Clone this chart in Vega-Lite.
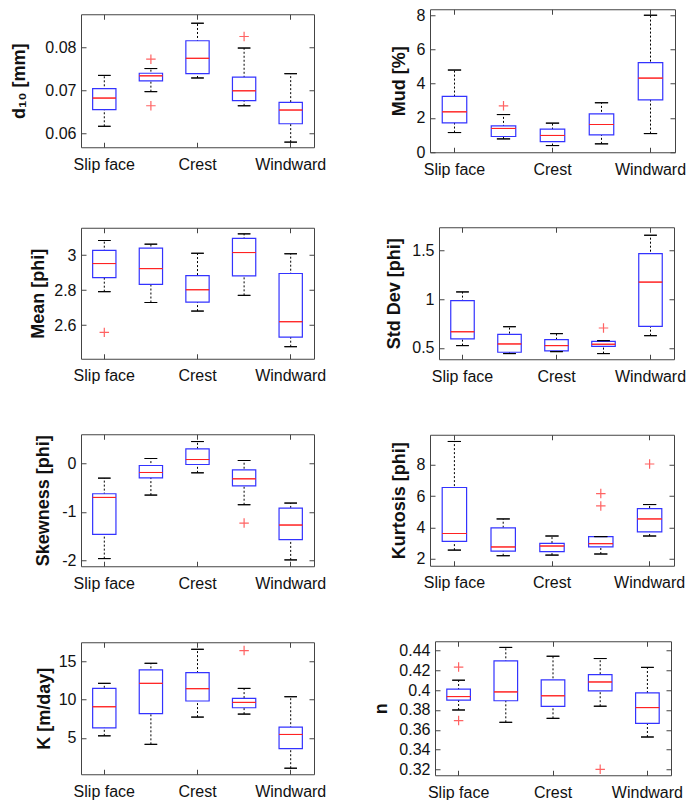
{
"$schema": "https://vega.github.io/schema/vega-lite/v6.json",
"padding": {"left": 10, "top": 6, "right": 0, "bottom": 0},
"datasets": {
"stats": [
{"v":"d10","pos":1,"lo":0.0616,"q1":0.0655,"med":0.0682,"q3":0.0704,"hi":0.0735},
{"v":"d10","pos":2,"lo":0.0697,"q1":0.0722,"med":0.0734,"q3":0.0740,"hi":0.0751},
{"v":"d10","pos":3,"lo":0.0729,"q1":0.0739,"med":0.0775,"q3":0.0816,"hi":0.0857},
{"v":"d10","pos":4,"lo":0.0664,"q1":0.0676,"med":0.0699,"q3":0.0731,"hi":0.0799},
{"v":"d10","pos":5,"lo":0.0579,"q1":0.0622,"med":0.0654,"q3":0.0672,"hi":0.0739},
{"v":"mud","pos":1,"lo":1.15,"q1":1.72,"med":2.36,"q3":3.26,"hi":4.80},
{"v":"mud","pos":2,"lo":0.78,"q1":0.92,"med":1.39,"q3":1.54,"hi":2.20},
{"v":"mud","pos":3,"lo":0.39,"q1":0.62,"med":0.98,"q3":1.35,"hi":1.70},
{"v":"mud","pos":4,"lo":0.49,"q1":1.01,"med":1.62,"q3":2.24,"hi":2.89},
{"v":"mud","pos":5,"lo":1.09,"q1":3.06,"med":4.33,"q3":5.23,"hi":8.0},
{"v":"mean","pos":1,"lo":2.791,"q1":2.872,"med":2.952,"q3":3.027,"hi":3.084},
{"v":"mean","pos":2,"lo":2.729,"q1":2.833,"med":2.923,"q3":3.040,"hi":3.063},
{"v":"mean","pos":3,"lo":2.680,"q1":2.731,"med":2.802,"q3":2.883,"hi":3.011},
{"v":"mean","pos":4,"lo":2.770,"q1":2.881,"med":3.015,"q3":3.096,"hi":3.122},
{"v":"mean","pos":5,"lo":2.476,"q1":2.531,"med":2.619,"q3":2.895,"hi":3.008},
{"v":"sd","pos":1,"lo":0.524,"q1":0.594,"med":0.666,"q3":0.986,"hi":1.075},
{"v":"sd","pos":2,"lo":0.442,"q1":0.456,"med":0.541,"q3":0.640,"hi":0.718},
{"v":"sd","pos":3,"lo":0.462,"q1":0.469,"med":0.524,"q3":0.585,"hi":0.647},
{"v":"sd","pos":4,"lo":0.442,"q1":0.517,"med":0.538,"q3":0.568,"hi":0.575},
{"v":"sd","pos":5,"lo":0.626,"q1":0.722,"med":1.176,"q3":1.469,"hi":1.657},
{"v":"skew","pos":1,"lo":-1.959,"q1":-1.461,"med":-0.703,"q3":-0.628,"hi":-0.307},
{"v":"skew","pos":2,"lo":-0.655,"q1":-0.300,"med":-0.191,"q3":-0.048,"hi":0.096},
{"v":"skew","pos":3,"lo":-0.198,"q1":-0.027,"med":0.075,"q3":0.294,"hi":0.444},
{"v":"skew","pos":4,"lo":-0.853,"q1":-0.464,"med":-0.321,"q3":-0.137,"hi":0.055},
{"v":"skew","pos":5,"lo":-1.986,"q1":-1.570,"med":-1.270,"q3":-0.922,"hi":-0.819},
{"v":"kurt","pos":1,"lo":2.55,"q1":3.11,"med":3.61,"q3":6.55,"hi":9.49},
{"v":"kurt","pos":2,"lo":2.19,"q1":2.49,"med":2.75,"q3":3.97,"hi":4.54},
{"v":"kurt","pos":3,"lo":2.23,"q1":2.45,"med":2.81,"q3":2.98,"hi":3.45},
{"v":"kurt","pos":4,"lo":2.30,"q1":2.75,"med":2.96,"q3":3.41,"hi":3.41},
{"v":"kurt","pos":5,"lo":3.45,"q1":3.71,"med":4.54,"q3":5.20,"hi":5.46},
{"v":"k","pos":1,"lo":5.28,"q1":6.33,"med":9.08,"q3":11.48,"hi":12.14},
{"v":"k","pos":2,"lo":4.17,"q1":8.17,"med":12.14,"q3":13.89,"hi":14.76},
{"v":"k","pos":3,"lo":7.73,"q1":9.83,"med":11.44,"q3":13.54,"hi":16.59},
{"v":"k","pos":4,"lo":8.12,"q1":8.95,"med":9.65,"q3":10.17,"hi":11.48},
{"v":"k","pos":5,"lo":1.05,"q1":3.62,"med":5.46,"q3":6.42,"hi":10.39},
{"v":"n","pos":1,"lo":0.380,"q1":0.390,"med":0.3935,"q3":0.401,"hi":0.410},
{"v":"n","pos":2,"lo":0.3676,"q1":0.3893,"med":0.3982,"q3":0.4295,"hi":0.443},
{"v":"n","pos":3,"lo":0.3716,"q1":0.3837,"med":0.3943,"q3":0.4104,"hi":0.4341},
{"v":"n","pos":4,"lo":0.3838,"q1":0.3993,"med":0.4082,"q3":0.4157,"hi":0.4318},
{"v":"n","pos":5,"lo":0.3528,"q1":0.3666,"med":0.3824,"q3":0.3972,"hi":0.4229}
],
"out": [
{"v":"d10","pos":2,"val":0.0773},
{"v":"d10","pos":2,"val":0.0664},
{"v":"d10","pos":4,"val":0.0826},
{"v":"mud","pos":2,"val":2.71},
{"v":"mean","pos":1,"val":2.558},
{"v":"sd","pos":4,"val":0.705},
{"v":"skew","pos":4,"val":-1.229},
{"v":"kurt","pos":4,"val":6.16},
{"v":"kurt","pos":4,"val":5.37},
{"v":"kurt","pos":5,"val":8.05},
{"v":"k","pos":4,"val":16.42},
{"v":"n","pos":1,"val":0.4232},
{"v":"n","pos":1,"val":0.3693},
{"v":"n","pos":4,"val":0.3203}
]
},
"vconcat": [
{"hconcat": [
{"width":233,"height":133,"resolve":{"axis":{"x":"independent","y":"independent"}},"layer":[
{"data":{"name":"stats"},"transform":[{"filter":"datum.v=='d10'"}],"mark":{"type":"rule","color":"black","strokeDash":[2,2],"strokeWidth":1},"encoding":{"x":{"field":"pos","type":"ordinal","scale":{"type":"band","domain":[1,2,3,4,5],"paddingInner":0,"paddingOuter":0},"axis":{"values":[1,3,5],"labelExpr":"datum.value==1?'Slip face':datum.value==3?'Crest':'Windward'","title":null,"labelAngle":0}},"y":{"field":"lo","type":"quantitative","scale":{"domain":[0.0567,0.0878],"nice":false,"zero":false},"axis":{"values":[0.06,0.07,0.08],"format":".2f","title":"d₁₀ [mm]","titlePadding":16}},"y2":{"field":"hi"}}},
{"data":{"name":"stats"},"transform":[{"filter":"datum.v=='d10'"}],"mark":{"type":"bar","width":{"band":0.5},"fill":"white","stroke":"#3333ff","strokeWidth":1.2},"encoding":{"x":{"field":"pos","type":"ordinal","axis":{"orient":"top","values":[1,3,5],"labels":false,"title":null}},"y":{"field":"q1","type":"quantitative","axis":{"orient":"right","values":[0.06,0.07,0.08],"labels":false,"title":null}},"y2":{"field":"q3"}}},
{"data":{"name":"stats"},"transform":[{"filter":"datum.v=='d10'"}],"mark":{"type":"bar","width":{"band":0.5},"fillOpacity":0,"stroke":"#ff2222","strokeWidth":1},"encoding":{"x":{"field":"pos","type":"ordinal","axis":null},"y":{"field":"med","type":"quantitative","axis":null},"y2":{"field":"med"}}},
{"data":{"name":"stats"},"transform":[{"filter":"datum.v=='d10'"}],"mark":{"type":"bar","width":{"band":0.27},"fillOpacity":0,"stroke":"black","strokeWidth":1},"encoding":{"x":{"field":"pos","type":"ordinal","axis":null},"y":{"field":"lo","type":"quantitative","axis":null},"y2":{"field":"lo"}}},
{"data":{"name":"stats"},"transform":[{"filter":"datum.v=='d10'"}],"mark":{"type":"bar","width":{"band":0.27},"fillOpacity":0,"stroke":"black","strokeWidth":1},"encoding":{"x":{"field":"pos","type":"ordinal","axis":null},"y":{"field":"hi","type":"quantitative","axis":null},"y2":{"field":"hi"}}},
{"data":{"name":"out"},"transform":[{"filter":"datum.v=='d10'"}],"mark":{"type":"point","shape":"M-1,0H1M0,-1V1","size":90,"filled":false,"stroke":"#ff2222","strokeWidth":1.2},"encoding":{"x":{"field":"pos","type":"ordinal","axis":null},"y":{"field":"val","type":"quantitative","axis":null}}}
]},
{"width":245,"height":143,"resolve":{"axis":{"x":"independent","y":"independent"}},"layer":[
{"data":{"name":"stats"},"transform":[{"filter":"datum.v=='mud'"}],"mark":{"type":"rule","color":"black","strokeDash":[2,2],"strokeWidth":1},"encoding":{"x":{"field":"pos","type":"ordinal","scale":{"type":"band","domain":[1,2,3,4,5],"paddingInner":0,"paddingOuter":0},"axis":{"values":[1,3,5],"labelExpr":"datum.value==1?'Slip face':datum.value==3?'Crest':'Windward'","title":null,"labelAngle":0}},"y":{"field":"lo","type":"quantitative","scale":{"domain":[0,8.35],"nice":false,"zero":false},"axis":{"values":[0,2,4,6,8],"format":"~g","title":"Mud [%]","titlePadding":8}},"y2":{"field":"hi"}}},
{"data":{"name":"stats"},"transform":[{"filter":"datum.v=='mud'"}],"mark":{"type":"bar","width":{"band":0.5},"fill":"white","stroke":"#3333ff","strokeWidth":1.2},"encoding":{"x":{"field":"pos","type":"ordinal","axis":{"orient":"top","values":[1,3,5],"labels":false,"title":null}},"y":{"field":"q1","type":"quantitative","axis":{"orient":"right","values":[0,2,4,6,8],"labels":false,"title":null}},"y2":{"field":"q3"}}},
{"data":{"name":"stats"},"transform":[{"filter":"datum.v=='mud'"}],"mark":{"type":"bar","width":{"band":0.5},"fillOpacity":0,"stroke":"#ff2222","strokeWidth":1},"encoding":{"x":{"field":"pos","type":"ordinal","axis":null},"y":{"field":"med","type":"quantitative","axis":null},"y2":{"field":"med"}}},
{"data":{"name":"stats"},"transform":[{"filter":"datum.v=='mud'"}],"mark":{"type":"bar","width":{"band":0.27},"fillOpacity":0,"stroke":"black","strokeWidth":1},"encoding":{"x":{"field":"pos","type":"ordinal","axis":null},"y":{"field":"lo","type":"quantitative","axis":null},"y2":{"field":"lo"}}},
{"data":{"name":"stats"},"transform":[{"filter":"datum.v=='mud'"}],"mark":{"type":"bar","width":{"band":0.27},"fillOpacity":0,"stroke":"black","strokeWidth":1},"encoding":{"x":{"field":"pos","type":"ordinal","axis":null},"y":{"field":"hi","type":"quantitative","axis":null},"y2":{"field":"hi"}}},
{"data":{"name":"out"},"transform":[{"filter":"datum.v=='mud'"}],"mark":{"type":"point","shape":"M-1,0H1M0,-1V1","size":90,"filled":false,"stroke":"#ff2222","strokeWidth":1.2},"encoding":{"x":{"field":"pos","type":"ordinal","axis":null},"y":{"field":"val","type":"quantitative","axis":null}}}
]}
],"spacing":62,"center":true},
{"hconcat": [
{"width":233,"height":131,"resolve":{"axis":{"x":"independent","y":"independent"}},"layer":[
{"data":{"name":"stats"},"transform":[{"filter":"datum.v=='mean'"}],"mark":{"type":"rule","color":"black","strokeDash":[2,2],"strokeWidth":1},"encoding":{"x":{"field":"pos","type":"ordinal","scale":{"type":"band","domain":[1,2,3,4,5],"paddingInner":0,"paddingOuter":0},"axis":{"values":[1,3,5],"labelExpr":"datum.value==1?'Slip face':datum.value==3?'Crest':'Windward'","title":null,"labelAngle":0}},"y":{"field":"lo","type":"quantitative","scale":{"domain":[2.407,3.157],"nice":false,"zero":false},"axis":{"values":[2.6,2.8,3],"format":"~g","title":"Mean [phi]","titlePadding":6}},"y2":{"field":"hi"}}},
{"data":{"name":"stats"},"transform":[{"filter":"datum.v=='mean'"}],"mark":{"type":"bar","width":{"band":0.5},"fill":"white","stroke":"#3333ff","strokeWidth":1.2},"encoding":{"x":{"field":"pos","type":"ordinal","axis":{"orient":"top","values":[1,3,5],"labels":false,"title":null}},"y":{"field":"q1","type":"quantitative","axis":{"orient":"right","values":[2.6,2.8,3],"labels":false,"title":null}},"y2":{"field":"q3"}}},
{"data":{"name":"stats"},"transform":[{"filter":"datum.v=='mean'"}],"mark":{"type":"bar","width":{"band":0.5},"fillOpacity":0,"stroke":"#ff2222","strokeWidth":1},"encoding":{"x":{"field":"pos","type":"ordinal","axis":null},"y":{"field":"med","type":"quantitative","axis":null},"y2":{"field":"med"}}},
{"data":{"name":"stats"},"transform":[{"filter":"datum.v=='mean'"}],"mark":{"type":"bar","width":{"band":0.27},"fillOpacity":0,"stroke":"black","strokeWidth":1},"encoding":{"x":{"field":"pos","type":"ordinal","axis":null},"y":{"field":"lo","type":"quantitative","axis":null},"y2":{"field":"lo"}}},
{"data":{"name":"stats"},"transform":[{"filter":"datum.v=='mean'"}],"mark":{"type":"bar","width":{"band":0.27},"fillOpacity":0,"stroke":"black","strokeWidth":1},"encoding":{"x":{"field":"pos","type":"ordinal","axis":null},"y":{"field":"hi","type":"quantitative","axis":null},"y2":{"field":"hi"}}},
{"data":{"name":"out"},"transform":[{"filter":"datum.v=='mean'"}],"mark":{"type":"point","shape":"M-1,0H1M0,-1V1","size":90,"filled":false,"stroke":"#ff2222","strokeWidth":1.2},"encoding":{"x":{"field":"pos","type":"ordinal","axis":null},"y":{"field":"val","type":"quantitative","axis":null}}}
]},
{"width":235,"height":132,"resolve":{"axis":{"x":"independent","y":"independent"}},"layer":[
{"data":{"name":"stats"},"transform":[{"filter":"datum.v=='sd'"}],"mark":{"type":"rule","color":"black","strokeDash":[2,2],"strokeWidth":1},"encoding":{"x":{"field":"pos","type":"ordinal","scale":{"type":"band","domain":[1,2,3,4,5],"paddingInner":0,"paddingOuter":0},"axis":{"values":[1,3,5],"labelExpr":"datum.value==1?'Slip face':datum.value==3?'Crest':'Windward'","title":null,"labelAngle":0}},"y":{"field":"lo","type":"quantitative","scale":{"domain":[0.384,1.739],"nice":false,"zero":false},"axis":{"values":[0.5,1,1.5],"format":"~g","title":"Std Dev [phi]","titlePadding":8}},"y2":{"field":"hi"}}},
{"data":{"name":"stats"},"transform":[{"filter":"datum.v=='sd'"}],"mark":{"type":"bar","width":{"band":0.5},"fill":"white","stroke":"#3333ff","strokeWidth":1.2},"encoding":{"x":{"field":"pos","type":"ordinal","axis":{"orient":"top","values":[1,3,5],"labels":false,"title":null}},"y":{"field":"q1","type":"quantitative","axis":{"orient":"right","values":[0.5,1,1.5],"labels":false,"title":null}},"y2":{"field":"q3"}}},
{"data":{"name":"stats"},"transform":[{"filter":"datum.v=='sd'"}],"mark":{"type":"bar","width":{"band":0.5},"fillOpacity":0,"stroke":"#ff2222","strokeWidth":1},"encoding":{"x":{"field":"pos","type":"ordinal","axis":null},"y":{"field":"med","type":"quantitative","axis":null},"y2":{"field":"med"}}},
{"data":{"name":"stats"},"transform":[{"filter":"datum.v=='sd'"}],"mark":{"type":"bar","width":{"band":0.27},"fillOpacity":0,"stroke":"black","strokeWidth":1},"encoding":{"x":{"field":"pos","type":"ordinal","axis":null},"y":{"field":"lo","type":"quantitative","axis":null},"y2":{"field":"lo"}}},
{"data":{"name":"stats"},"transform":[{"filter":"datum.v=='sd'"}],"mark":{"type":"bar","width":{"band":0.27},"fillOpacity":0,"stroke":"black","strokeWidth":1},"encoding":{"x":{"field":"pos","type":"ordinal","axis":null},"y":{"field":"hi","type":"quantitative","axis":null},"y2":{"field":"hi"}}},
{"data":{"name":"out"},"transform":[{"filter":"datum.v=='sd'"}],"mark":{"type":"point","shape":"M-1,0H1M0,-1V1","size":90,"filled":false,"stroke":"#ff2222","strokeWidth":1.2},"encoding":{"x":{"field":"pos","type":"ordinal","axis":null},"y":{"field":"val","type":"quantitative","axis":null}}}
]}
],"spacing":58,"center":true},
{"hconcat": [
{"width":233,"height":132,"resolve":{"axis":{"x":"independent","y":"independent"}},"layer":[
{"data":{"name":"stats"},"transform":[{"filter":"datum.v=='skew'"}],"mark":{"type":"rule","color":"black","strokeDash":[2,2],"strokeWidth":1},"encoding":{"x":{"field":"pos","type":"ordinal","scale":{"type":"band","domain":[1,2,3,4,5],"paddingInner":0,"paddingOuter":0},"axis":{"values":[1,3,5],"labelExpr":"datum.value==1?'Slip face':datum.value==3?'Crest':'Windward'","title":null,"labelAngle":0}},"y":{"field":"lo","type":"quantitative","scale":{"domain":[-2.116,0.594],"nice":false,"zero":false},"axis":{"values":[-2,-1,0],"labelExpr":"datum.value","title":"Skewness [phi]","titlePadding":9}},"y2":{"field":"hi"}}},
{"data":{"name":"stats"},"transform":[{"filter":"datum.v=='skew'"}],"mark":{"type":"bar","width":{"band":0.5},"fill":"white","stroke":"#3333ff","strokeWidth":1.2},"encoding":{"x":{"field":"pos","type":"ordinal","axis":{"orient":"top","values":[1,3,5],"labels":false,"title":null}},"y":{"field":"q1","type":"quantitative","axis":{"orient":"right","values":[-2,-1,0],"labels":false,"title":null}},"y2":{"field":"q3"}}},
{"data":{"name":"stats"},"transform":[{"filter":"datum.v=='skew'"}],"mark":{"type":"bar","width":{"band":0.5},"fillOpacity":0,"stroke":"#ff2222","strokeWidth":1},"encoding":{"x":{"field":"pos","type":"ordinal","axis":null},"y":{"field":"med","type":"quantitative","axis":null},"y2":{"field":"med"}}},
{"data":{"name":"stats"},"transform":[{"filter":"datum.v=='skew'"}],"mark":{"type":"bar","width":{"band":0.27},"fillOpacity":0,"stroke":"black","strokeWidth":1},"encoding":{"x":{"field":"pos","type":"ordinal","axis":null},"y":{"field":"lo","type":"quantitative","axis":null},"y2":{"field":"lo"}}},
{"data":{"name":"stats"},"transform":[{"filter":"datum.v=='skew'"}],"mark":{"type":"bar","width":{"band":0.27},"fillOpacity":0,"stroke":"black","strokeWidth":1},"encoding":{"x":{"field":"pos","type":"ordinal","axis":null},"y":{"field":"hi","type":"quantitative","axis":null},"y2":{"field":"hi"}}},
{"data":{"name":"out"},"transform":[{"filter":"datum.v=='skew'"}],"mark":{"type":"point","shape":"M-1,0H1M0,-1V1","size":90,"filled":false,"stroke":"#ff2222","strokeWidth":1.2},"encoding":{"x":{"field":"pos","type":"ordinal","axis":null},"y":{"field":"val","type":"quantitative","axis":null}}}
]},
{"width":244,"height":131,"resolve":{"axis":{"x":"independent","y":"independent"}},"layer":[
{"data":{"name":"stats"},"transform":[{"filter":"datum.v=='kurt'"}],"mark":{"type":"rule","color":"black","strokeDash":[2,2],"strokeWidth":1},"encoding":{"x":{"field":"pos","type":"ordinal","scale":{"type":"band","domain":[1,2,3,4,5],"paddingInner":0,"paddingOuter":0},"axis":{"values":[1,3,5],"labelExpr":"datum.value==1?'Slip face':datum.value==3?'Crest':'Windward'","title":null,"labelAngle":0}},"y":{"field":"lo","type":"quantitative","scale":{"domain":[1.55,9.92],"nice":false,"zero":false},"axis":{"values":[2,4,6,8],"format":"~g","title":"Kurtosis [phi]","titlePadding":8}},"y2":{"field":"hi"}}},
{"data":{"name":"stats"},"transform":[{"filter":"datum.v=='kurt'"}],"mark":{"type":"bar","width":{"band":0.5},"fill":"white","stroke":"#3333ff","strokeWidth":1.2},"encoding":{"x":{"field":"pos","type":"ordinal","axis":{"orient":"top","values":[1,3,5],"labels":false,"title":null}},"y":{"field":"q1","type":"quantitative","axis":{"orient":"right","values":[2,4,6,8],"labels":false,"title":null}},"y2":{"field":"q3"}}},
{"data":{"name":"stats"},"transform":[{"filter":"datum.v=='kurt'"}],"mark":{"type":"bar","width":{"band":0.5},"fillOpacity":0,"stroke":"#ff2222","strokeWidth":1},"encoding":{"x":{"field":"pos","type":"ordinal","axis":null},"y":{"field":"med","type":"quantitative","axis":null},"y2":{"field":"med"}}},
{"data":{"name":"stats"},"transform":[{"filter":"datum.v=='kurt'"}],"mark":{"type":"bar","width":{"band":0.27},"fillOpacity":0,"stroke":"black","strokeWidth":1},"encoding":{"x":{"field":"pos","type":"ordinal","axis":null},"y":{"field":"lo","type":"quantitative","axis":null},"y2":{"field":"lo"}}},
{"data":{"name":"stats"},"transform":[{"filter":"datum.v=='kurt'"}],"mark":{"type":"bar","width":{"band":0.27},"fillOpacity":0,"stroke":"black","strokeWidth":1},"encoding":{"x":{"field":"pos","type":"ordinal","axis":null},"y":{"field":"hi","type":"quantitative","axis":null},"y2":{"field":"hi"}}},
{"data":{"name":"out"},"transform":[{"filter":"datum.v=='kurt'"}],"mark":{"type":"point","shape":"M-1,0H1M0,-1V1","size":90,"filled":false,"stroke":"#ff2222","strokeWidth":1.2},"encoding":{"x":{"field":"pos","type":"ordinal","axis":null},"y":{"field":"val","type":"quantitative","axis":null}}}
]}
],"spacing":62,"center":true},
{"hconcat": [
{"width":233,"height":132,"resolve":{"axis":{"x":"independent","y":"independent"}},"layer":[
{"data":{"name":"stats"},"transform":[{"filter":"datum.v=='k'"}],"mark":{"type":"rule","color":"black","strokeDash":[2,2],"strokeWidth":1},"encoding":{"x":{"field":"pos","type":"ordinal","scale":{"type":"band","domain":[1,2,3,4,5],"paddingInner":0,"paddingOuter":0},"axis":{"values":[1,3,5],"labelExpr":"datum.value==1?'Slip face':datum.value==3?'Crest':'Windward'","title":null,"labelAngle":0}},"y":{"field":"lo","type":"quantitative","scale":{"domain":[0.26,17.51],"nice":false,"zero":false},"axis":{"values":[5,10,15],"format":"~g","title":"K [m/day]","titlePadding":5}},"y2":{"field":"hi"}}},
{"data":{"name":"stats"},"transform":[{"filter":"datum.v=='k'"}],"mark":{"type":"bar","width":{"band":0.5},"fill":"white","stroke":"#3333ff","strokeWidth":1.2},"encoding":{"x":{"field":"pos","type":"ordinal","axis":{"orient":"top","values":[1,3,5],"labels":false,"title":null}},"y":{"field":"q1","type":"quantitative","axis":{"orient":"right","values":[5,10,15],"labels":false,"title":null}},"y2":{"field":"q3"}}},
{"data":{"name":"stats"},"transform":[{"filter":"datum.v=='k'"}],"mark":{"type":"bar","width":{"band":0.5},"fillOpacity":0,"stroke":"#ff2222","strokeWidth":1},"encoding":{"x":{"field":"pos","type":"ordinal","axis":null},"y":{"field":"med","type":"quantitative","axis":null},"y2":{"field":"med"}}},
{"data":{"name":"stats"},"transform":[{"filter":"datum.v=='k'"}],"mark":{"type":"bar","width":{"band":0.27},"fillOpacity":0,"stroke":"black","strokeWidth":1},"encoding":{"x":{"field":"pos","type":"ordinal","axis":null},"y":{"field":"lo","type":"quantitative","axis":null},"y2":{"field":"lo"}}},
{"data":{"name":"stats"},"transform":[{"filter":"datum.v=='k'"}],"mark":{"type":"bar","width":{"band":0.27},"fillOpacity":0,"stroke":"black","strokeWidth":1},"encoding":{"x":{"field":"pos","type":"ordinal","axis":null},"y":{"field":"hi","type":"quantitative","axis":null},"y2":{"field":"hi"}}},
{"data":{"name":"out"},"transform":[{"filter":"datum.v=='k'"}],"mark":{"type":"point","shape":"M-1,0H1M0,-1V1","size":90,"filled":false,"stroke":"#ff2222","strokeWidth":1.2},"encoding":{"x":{"field":"pos","type":"ordinal","axis":null},"y":{"field":"val","type":"quantitative","axis":null}}}
]},
{"width":236,"height":134,"resolve":{"axis":{"x":"independent","y":"independent"}},"layer":[
{"data":{"name":"stats"},"transform":[{"filter":"datum.v=='n'"}],"mark":{"type":"rule","color":"black","strokeDash":[2,2],"strokeWidth":1},"encoding":{"x":{"field":"pos","type":"ordinal","scale":{"type":"band","domain":[1,2,3,4,5],"paddingInner":0,"paddingOuter":0},"axis":{"values":[1,3,5],"labelExpr":"datum.value==1?'Slip face':datum.value==3?'Crest':'Windward'","title":null,"labelAngle":0}},"y":{"field":"lo","type":"quantitative","scale":{"domain":[0.3143,0.4492],"nice":false,"zero":false},"axis":{"values":[0.32,0.34,0.36,0.38,0.4,0.42,0.44],"format":"~g","title":"n","titlePadding":8}},"y2":{"field":"hi"}}},
{"data":{"name":"stats"},"transform":[{"filter":"datum.v=='n'"}],"mark":{"type":"bar","width":{"band":0.5},"fill":"white","stroke":"#3333ff","strokeWidth":1.2},"encoding":{"x":{"field":"pos","type":"ordinal","axis":{"orient":"top","values":[1,3,5],"labels":false,"title":null}},"y":{"field":"q1","type":"quantitative","axis":{"orient":"right","values":[0.32,0.34,0.36,0.38,0.4,0.42,0.44],"labels":false,"title":null}},"y2":{"field":"q3"}}},
{"data":{"name":"stats"},"transform":[{"filter":"datum.v=='n'"}],"mark":{"type":"bar","width":{"band":0.5},"fillOpacity":0,"stroke":"#ff2222","strokeWidth":1},"encoding":{"x":{"field":"pos","type":"ordinal","axis":null},"y":{"field":"med","type":"quantitative","axis":null},"y2":{"field":"med"}}},
{"data":{"name":"stats"},"transform":[{"filter":"datum.v=='n'"}],"mark":{"type":"bar","width":{"band":0.27},"fillOpacity":0,"stroke":"black","strokeWidth":1},"encoding":{"x":{"field":"pos","type":"ordinal","axis":null},"y":{"field":"lo","type":"quantitative","axis":null},"y2":{"field":"lo"}}},
{"data":{"name":"stats"},"transform":[{"filter":"datum.v=='n'"}],"mark":{"type":"bar","width":{"band":0.27},"fillOpacity":0,"stroke":"black","strokeWidth":1},"encoding":{"x":{"field":"pos","type":"ordinal","axis":null},"y":{"field":"hi","type":"quantitative","axis":null},"y2":{"field":"hi"}}},
{"data":{"name":"out"},"transform":[{"filter":"datum.v=='n'"}],"mark":{"type":"point","shape":"M-1,0H1M0,-1V1","size":90,"filled":false,"stroke":"#ff2222","strokeWidth":1.2},"encoding":{"x":{"field":"pos","type":"ordinal","axis":null},"y":{"field":"val","type":"quantitative","axis":null}}}
]}
],"spacing":45,"center":true}
],
"spacing": 48,
"config": {
"font": "Liberation Sans",
"view": {"stroke": "#444", "strokeWidth": 1},
"axis": {"labelFont": "Liberation Sans", "labelFontSize": 16, "labelColor": "#111", "titleFont": "Liberation Sans", "titleFontSize": 18, "titleFontWeight": "bold", "titleColor": "#111", "grid": false, "domain": false, "tickColor": "#444", "tickSize": -5},
"axisX": {"labelPadding": 14},
"axisY": {"labelPadding": 10}
}
}
